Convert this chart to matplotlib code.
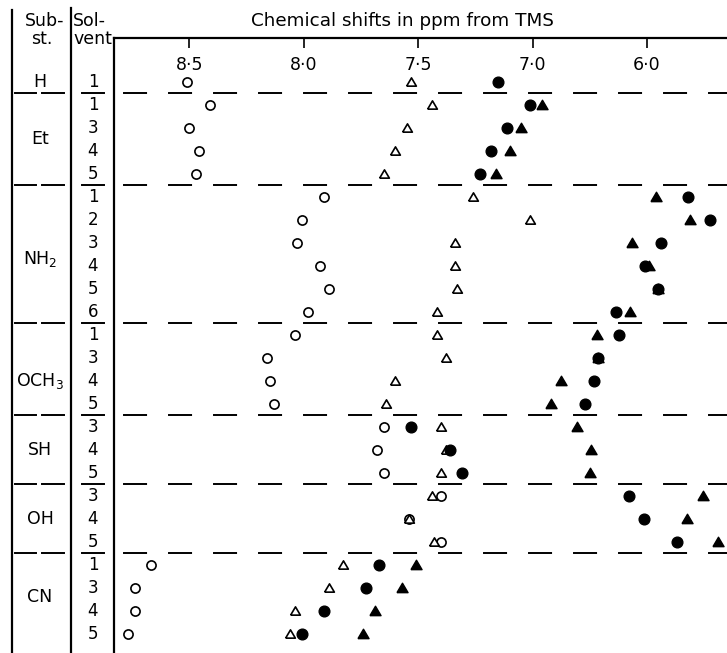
import numpy as np
import matplotlib
matplotlib.use("Agg")
import matplotlib.pyplot as plt
from matplotlib.transforms import blended_transform_factory

plt.rcParams['font.family'] = ['DejaVu Sans']
plt.rcParams['mathtext.fontset'] = 'dejavusans'
plt.rcParams['lines.scale_dashes'] = False

# substituents and the solvents measured for each one
substituents = ['H', 'Et', r'NH$\mathregular{_2}$', r'OCH$\mathregular{_3}$', 'SH', 'OH', 'CN']
solvents = [[1], [1, 3, 4, 5], [1, 2, 3, 4, 5, 6], [1, 3, 4, 5], [3, 4, 5], [3, 4, 5], [1, 3, 4, 5]]

# chemical shifts (ppm from TMS), one value per row, nan = not shown
open_circle = [8.51,
               8.41, 8.50, 8.46, 8.47,
               7.91, 8.01, 8.03, 7.93, 7.89, 7.98,
               8.04, 8.16, 8.15, 8.13,
               7.65, 7.68, 7.65,
               7.40, 7.54, 7.40,
               8.67, 8.74, 8.74, 8.77]
open_triangle = [7.53,
                 7.44, 7.55, 7.60, 7.65,
                 7.26, 7.01, 7.34, 7.34, 7.33, 7.42,
                 7.42, 7.38, 7.60, 7.64,
                 7.40, 7.38, 7.40,
                 7.44, 7.54, 7.43,
                 7.83, 7.89, 8.04, 8.06]
filled_circle = [7.15,
                 7.01, 7.11, 7.18, 7.23,
                 5.64, 5.45, 5.88, 6.02, 5.90, 6.27,
                 6.24, 6.43, 6.46, 6.54,
                 7.53, 7.36, 7.31,
                 6.16, 6.03, 5.74,
                 7.67, 7.73, 7.91, 8.01]
filled_triangle = [np.nan,
                   6.92, 7.05, 7.10, 7.16,
                   5.92, 5.62, 6.13, 5.98, 5.90, 6.15,
                   6.44, 6.43, 6.75, 6.84,
                   6.61, 6.49, 6.50,
                   5.51, 5.65, 5.38,
                   7.51, 7.57, 7.69, 7.74]

ticks = [8.5, 8.0, 7.5, 7.0, 6.0]
tick_labels = ['8·5', '8·0', '7·5', '7·0', '6·0']


# the scale is squeezed to half beyond 7.0 ppm
def fwd(x):
    x = np.asarray(x, dtype=float)
    return np.where(x >= 7.0, x, 7.0 - (7.0 - x) / 2)


def inv(t):
    t = np.asarray(t, dtype=float)
    return np.where(t >= 7.0, t, 7.0 - 2 * (7.0 - t))


W, H = 727, 653
fig = plt.figure(figsize=(W / 100, H / 100), dpi=100)
fig.patch.set_facecolor('white')

# background axes in pixel units for the table part
bg = fig.add_axes([0, 0, 1, 1])
bg.set_xlim(0, W)
bg.set_ylim(H, 0)
bg.axis('off')

ax = fig.add_axes([114 / W, 0, 1 - 114 / W, (H - 38) / H])
ax.set_xscale('function', functions=(fwd, inv))
ax.set_xlim(8.83, 5.30)

n_rows = sum(len(s) for s in solvents)
rows = np.arange(n_rows)
ax.set_ylim(24.83, -1.91)

for sp in ['right', 'bottom']:
    ax.spines[sp].set_visible(False)
ax.spines['left'].set_linewidth(1.6)
ax.spines['top'].set_linewidth(1.6)
ax.set_yticks([])
ax.xaxis.set_ticks_position('top')
ax.set_xticks(ticks)
ax.tick_params(axis='x', direction='in', length=7, width=1.2,
               labeltop=False, labelbottom=False)
tx = blended_transform_factory(ax.transData, ax.transAxes)
for t, lab in zip(ticks, tick_labels):
    ax.text(t, 0.956, lab, transform=tx, ha='center', va='center', fontsize=12.5)

tri = [(-1, -0.75), (1, -0.75), (0, 0.95), (-1, -0.75)]
ax.plot(open_circle, rows, ls='none', marker='o', ms=6.6, mfc='white', mec='black', mew=1.2, zorder=3)
ax.plot(open_triangle, rows, ls='none', marker=tri, ms=7.0, mfc='white', mec='black', mew=1.2, zorder=3)
ax.plot(filled_circle, rows, ls='none', marker='o', ms=7.7, color='black', zorder=4)
ax.plot(filled_triangle, rows, ls='none', marker=tri, ms=8.0, color='black', zorder=4)

# group separators
bt = blended_transform_factory(bg.transData, ax.transData)
start = 0
label_shift = [0, 0, 0.2, 0.5, 0, 0, -0.1]
for g, (name, solv) in enumerate(zip(substituents, solvents)):
    r = np.arange(start, start + len(solv))
    for ri, s in zip(r, solv):
        bg.text(93, ri, str(s), transform=bt, ha='center', va='center', fontsize=12)
    bg.text(40, r.mean() + label_shift[g], name, transform=bt, ha='center', va='center', fontsize=12.5)
    start += len(solv)
    if start < n_rows:
        ysep = start - 0.5
        ax.axhline(ysep, color='black', lw=1.4, linestyle=(25.9, (17.3, 15.1)),
                   dash_capstyle='butt')
        for x0, x1 in [(15, 36), (42, 64), (82, 104)]:
            bg.plot([x0, x1], [ysep, ysep], transform=bt, color='black', lw=1.4)

# table frame and headers
bg.plot([12, 12], [10, H], color='black', lw=1.6)
bg.plot([71, 71], [8, H], color='black', lw=1.6)
bg.text(45, 21, 'Sub-', ha='center', va='center', fontsize=12.5)
bg.text(42, 39, 'st.', ha='center', va='center', fontsize=12.5)
bg.text(73, 21, 'Sol-', ha='left', va='center', fontsize=12.5)
bg.text(73, 39, 'vent', ha='left', va='center', fontsize=12.5)
bg.text(402, 21, 'Chemical shifts in ppm from TMS', ha='center', va='center', fontsize=13.2)

fig.savefig('out.png', dpi=100, facecolor='white')
